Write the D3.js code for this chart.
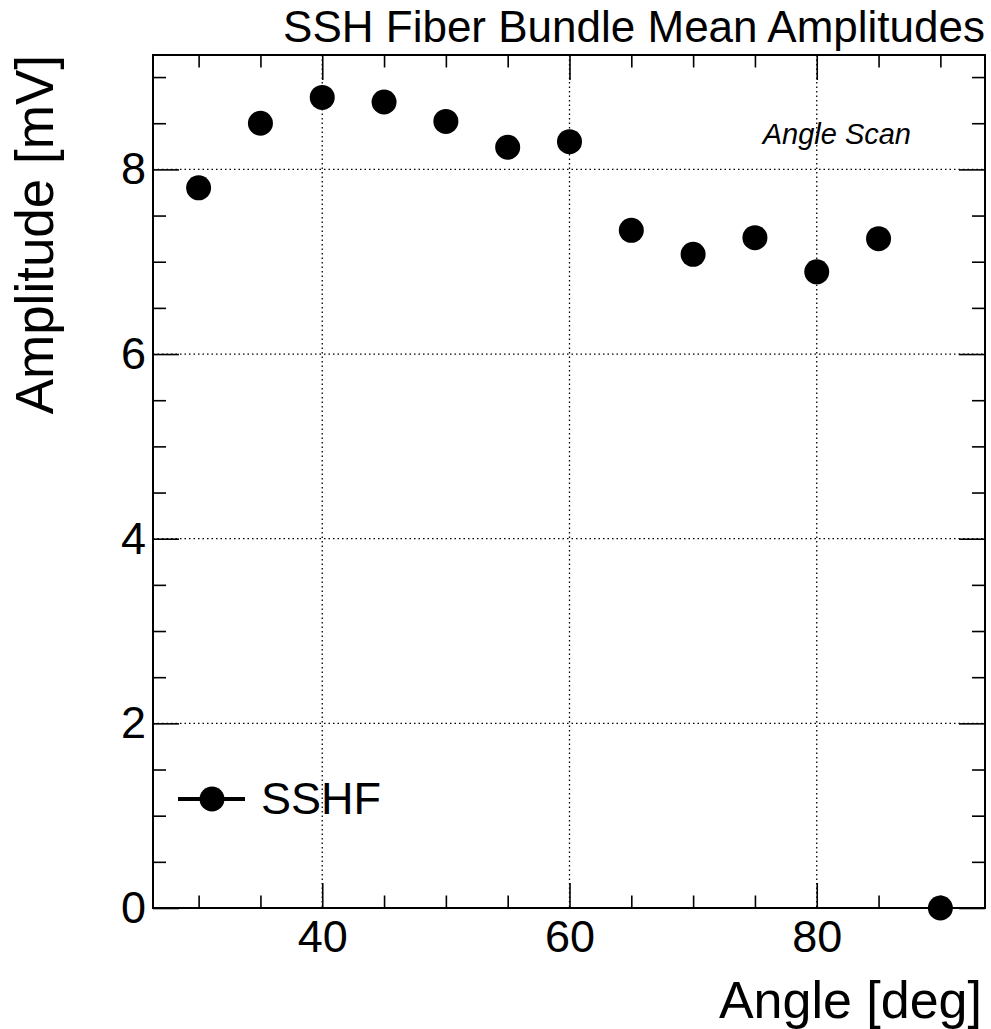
<!DOCTYPE html>
<html>
<head>
<meta charset="utf-8">
<script src="https://cdn.jsdelivr.net/npm/d3@7"></script>
<style>
	body { margin: 0; background: #fff; }
	svg text { font-family: "Liberation Sans", Arial, Helvetica, sans-serif; fill: #000; }
</style>
</head>
<body>
<svg id="chart" width="991" height="1029"></svg>
<script>
// values
var angles = [30, 35, 40, 45, 50, 55, 60, 65, 70, 75, 80, 85, 90];
var amplitudes = [7.80, 8.50, 8.78, 8.73, 8.52, 8.24, 8.30, 7.34, 7.08, 7.26, 6.89, 7.25, 0.0];
var xMajorTicks = [40, 60, 80];
var xMinorTicks = [30, 35, 45, 50, 55, 65, 70, 75, 85, 90];
var yMajorTicks = [0, 2, 4, 6, 8];
var yMinorTicks = [0.5, 1, 1.5, 2.5, 3, 3.5, 4.5, 5, 5.5, 6.5, 7, 7.5, 8.5, 9];
var seriesName = "SSHF";

var svg = d3.select("#chart");

// frame of the pad (padTop/padBottom, "top" is taken by window.top)
var padLeft = 153, padRight = 985, padTop = 55, padBottom = 908;

var x = d3.scaleLinear().domain([26.31, 93.61]).range([padLeft, padRight]);
var y = d3.scaleLinear().domain([0, 9.239]).range([padBottom, padTop]);

// dotted grid at the major ticks
var grid = svg.append("g").attr("class", "grid");
grid.selectAll(".gx")
	.data(xMajorTicks)
	.enter().append("line")
	.attr("x1", function(d) { return x(d); })
	.attr("x2", function(d) { return x(d); })
	.attr("y1", padTop)
	.attr("y2", padBottom)
	.style("stroke", "#000")
	.style("stroke-width", 1.3)
	.style("stroke-dasharray", "1.5,3");
grid.selectAll(".gy")
	.data(yMajorTicks.slice(1))
	.enter().append("line")
	.attr("x1", padLeft)
	.attr("x2", padRight)
	.attr("y1", function(d) { return y(d); })
	.attr("y2", function(d) { return y(d); })
	.style("stroke", "#000")
	.style("stroke-width", 1.3)
	.style("stroke-dasharray", "1.5,3");

// axes, ticks pointing inwards like ROOT does
function styleAxis(sel) {
	sel.select(".domain").remove();
	sel.selectAll("line").style("stroke", "#000").style("stroke-width", 1.6);
	sel.selectAll("text").style("font-size", "45px");
}

svg.append("g")
	.attr("transform", "translate(0," + padBottom + ")")
	.call(d3.axisBottom(x).tickValues(xMajorTicks).tickSize(-25).tickPadding(12))
	.call(styleAxis);
svg.append("g")
	.attr("transform", "translate(0," + padBottom + ")")
	.call(d3.axisBottom(x).tickValues(xMinorTicks).tickSize(-12.5).tickFormat(""))
	.call(styleAxis);
svg.append("g")
	.attr("transform", "translate(0," + padTop + ")")
	.call(d3.axisTop(x).tickValues(xMajorTicks).tickSize(-25).tickFormat(""))
	.call(styleAxis);
svg.append("g")
	.attr("transform", "translate(0," + padTop + ")")
	.call(d3.axisTop(x).tickValues(xMinorTicks).tickSize(-12.5).tickFormat(""))
	.call(styleAxis);

svg.append("g")
	.attr("transform", "translate(" + padLeft + ",0)")
	.call(d3.axisLeft(y).tickValues(yMajorTicks).tickSize(-26).tickPadding(7))
	.call(styleAxis);
svg.append("g")
	.attr("transform", "translate(" + padLeft + ",0)")
	.call(d3.axisLeft(y).tickValues(yMinorTicks).tickSize(-13).tickFormat(""))
	.call(styleAxis);
svg.append("g")
	.attr("transform", "translate(" + padRight + ",0)")
	.call(d3.axisRight(y).tickValues(yMajorTicks).tickSize(-26).tickFormat(""))
	.call(styleAxis);
svg.append("g")
	.attr("transform", "translate(" + padRight + ",0)")
	.call(d3.axisRight(y).tickValues(yMinorTicks).tickSize(-13).tickFormat(""))
	.call(styleAxis);

// frame
svg.append("rect")
	.attr("x", padLeft)
	.attr("y", padTop)
	.attr("width", padRight - padLeft)
	.attr("height", padBottom - padTop)
	.style("fill", "none")
	.style("stroke", "#000")
	.style("stroke-width", 2);

// markers
svg.append("g").selectAll("circle")
	.data(angles)
	.enter().append("circle")
	.attr("cx", function(d) { return x(d); })
	.attr("cy", function(d, i) { return y(amplitudes[i]); })
	.attr("r", 12.5)
	.style("fill", "#000");

// titles
svg.append("text")
	.attr("x", padRight)
	.attr("y", 42)
	.style("text-anchor", "end")
	.style("font-size", "44px")
	.text("SSH Fiber Bundle Mean Amplitudes");

svg.append("text")
	.attr("x", 982)
	.attr("y", 1018)
	.style("text-anchor", "end")
	.style("font-size", "52px")
	.text("Angle [deg]");

svg.append("text")
	.attr("transform", "translate(53,55) rotate(-90)")
	.style("text-anchor", "end")
	.style("font-size", "53px")
	.text("Amplitude [mV]");

svg.append("text")
	.attr("x", 911)
	.attr("y", 144)
	.style("text-anchor", "end")
	.style("font-size", "29px")
	.style("font-style", "italic")
	.text("Angle Scan");

// legend
var legend = svg.append("g");
legend.append("line")
	.attr("x1", 178).attr("x2", 245)
	.attr("y1", 799).attr("y2", 799)
	.style("stroke", "#000")
	.style("stroke-width", 4);
legend.append("circle")
	.attr("cx", 212).attr("cy", 799)
	.attr("r", 12.5)
	.style("fill", "#000");
legend.append("text")
	.attr("x", 261)
	.attr("y", 814)
	.style("font-size", "45px")
	.text(seriesName);
</script>
</body>
</html>
